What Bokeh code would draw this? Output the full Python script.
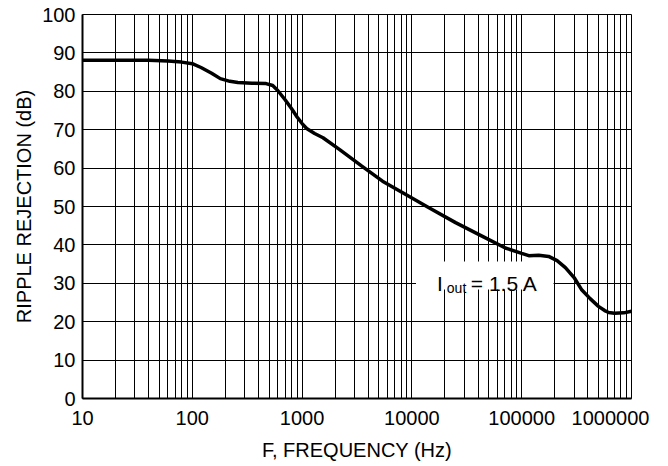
from bokeh.plotting import figure
from bokeh.models import FixedTicker, NumeralTickFormatter, Range1d
from bokeh.embed import file_html
from bokeh.resources import INLINE
from bokeh.core.properties import value

# ---- data ----
freq_hz = [10, 20, 40, 60, 80, 100, 120, 150, 180, 220, 260, 350, 470, 540, 600,
           700, 800, 900, 1000, 1100, 1300, 1550, 2200, 3500, 5400, 8800, 14300,
           25000, 43500, 71000, 100000, 116000, 143000, 176000, 210000, 250000,
           300000, 350000, 420000, 500000, 570000, 620000, 700000, 850000, 1000000]
rejection_db = [88.1, 88.1, 88.1, 87.9, 87.6, 87.2, 86.2, 84.7, 83.3, 82.6, 82.3,
                82.1, 82.0, 81.5, 80.2, 77.8, 75.5, 73.3, 71.6, 70.3, 69.0, 67.9,
                64.8, 60.5, 56.6, 53.1, 49.7, 45.8, 42.3, 39.2, 37.8, 37.2, 37.3,
                37.0, 35.9, 34.1, 31.5, 28.4, 26.0, 24.0, 22.9, 22.4, 22.2, 22.3,
                22.7]
x_tick_values = [10, 100, 1000, 10000, 100000, 1000000]
x_tick_labels = ["10", "100", "1000", "10000", "100000", "1000000"]
y_tick_values = [0, 10, 20, 30, 40, 50, 60, 70, 80, 90, 100]
x_title = "F, FREQUENCY (Hz)"
y_title = "RIPPLE REJECTION (dB)"

FONT = "Liberation Sans"

p = figure(width=660, height=464, x_axis_type="log",
           x_range=Range1d(10, 1000000), y_range=Range1d(0, 100),
           output_backend="svg", toolbar_location=None,
           min_border_left=82, min_border_right=29, min_border_top=14,
           min_border_bottom=66)

p.background_fill_color = "white"
p.border_fill_color = "white"
p.outline_line_color = "black"
p.outline_line_width = 1

# grid: every 1..9 x decade vertically, every 10 dB horizontally
grid_x = [m * 10 ** k for k in range(1, 6) for m in range(1, 10)] + [1000000]
p.xgrid.ticker = FixedTicker(ticks=grid_x)
p.ygrid.ticker = FixedTicker(ticks=y_tick_values)
for g in (p.xgrid, p.ygrid):
    g.grid_line_color = "black"
    g.grid_line_width = 1
    g.grid_line_alpha = 1.0

xa = p.xaxis[0]
xa.ticker = FixedTicker(ticks=x_tick_values)
xa.formatter = NumeralTickFormatter(format="0")
overrides = {v: l for v, l in zip(x_tick_values, x_tick_labels)}
overrides[1000000] = x_tick_labels[-1] + "\u00a0" * 2
xa.major_label_overrides = overrides

ya = p.yaxis[0]
ya.ticker = FixedTicker(ticks=y_tick_values)

for ax in (xa, ya):
    ax.axis_line_color = "black"
    ax.axis_line_width = 2
    ax.major_tick_line_color = None
    ax.minor_tick_line_color = None
    ax.major_tick_out = 0
    ax.major_tick_in = 0
    ax.major_label_text_font = FONT
    ax.major_label_text_font_size = "20px"
    ax.major_label_text_color = "black"
    ax.axis_label_text_font = FONT
    ax.axis_label_text_font_size = "20px"
    ax.axis_label_text_font_style = "normal"
    ax.axis_label_text_color = "black"

xa.axis_label = x_title
ya.axis_label = y_title
xa.major_label_standoff = 8
xa.axis_label_standoff = 7
ya.major_label_standoff = 7
ya.axis_label_standoff = 4

# white box behind the annotation
p.quad(left=[10900], right=[195000], bottom=[28.4], top=[35.7],
       fill_color="white", line_color=None)

p.line(freq_hz, rejection_db, line_color="black", line_width=3.5)

# annotation  I_out = 1.5 A
p.text(x=[16900], y=[30], text=["I"], text_font=value(FONT),
       text_font_size="21px", text_color="black", text_baseline="alphabetic")
p.text(x=[20800], y=[28.9], text=["out"], text_font=value(FONT),
       text_font_size="14px", text_color="black", text_baseline="alphabetic")
p.text(x=[34400], y=[30], text=["= 1.5 A"], text_font=value(FONT),
       text_font_size="21px", text_color="black", text_baseline="alphabetic")

open("out.html", "w").write(file_html(p, INLINE))
